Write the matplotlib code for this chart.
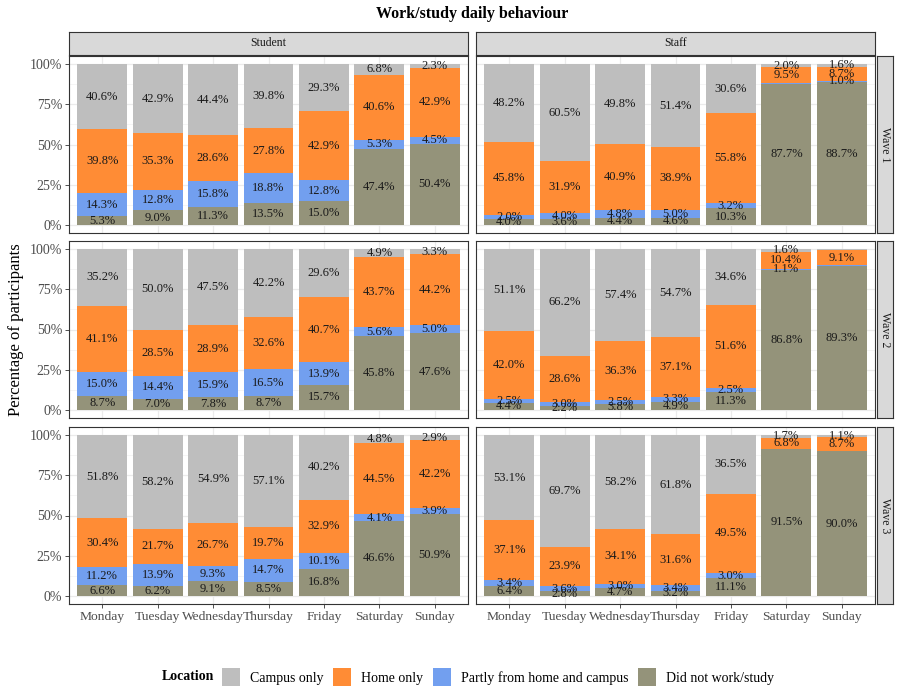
import matplotlib
matplotlib.use("Agg")
import matplotlib.pyplot as plt
from matplotlib.patches import Patch
import numpy as np

plt.rcParams["font.family"] = ["Liberation Serif", "DejaVu Serif"]

days = ["Monday", "Tuesday", "Wednesday", "Thursday", "Friday", "Saturday", "Sunday"]
groups = ["Student", "Staff"]
waves = ["Wave 1", "Wave 2", "Wave 3"]
locations = ["Campus only", "Home only", "Partly from home and campus", "Did not work/study"]
loc_colors = ["#BEBEBE", "#FF8C35", "#729FEF", "#94937A"]

# Percentages per wave (rows) and weekday (columns)
student_campus = [[40.6, 42.9, 44.4, 39.8, 29.3, 6.8, 2.3],
                  [35.2, 50.0, 47.5, 42.2, 29.6, 4.9, 3.3],
                  [51.8, 58.2, 54.9, 57.1, 40.2, 4.8, 2.9]]
student_home = [[39.8, 35.3, 28.6, 27.8, 42.9, 40.6, 42.9],
                [41.1, 28.5, 28.9, 32.6, 40.7, 43.7, 44.2],
                [30.4, 21.7, 26.7, 19.7, 32.9, 44.5, 42.2]]
student_partly = [[14.3, 12.8, 15.8, 18.8, 12.8, 5.3, 4.5],
                  [15.0, 14.4, 15.9, 16.5, 13.9, 5.6, 5.0],
                  [11.2, 13.9, 9.3, 14.7, 10.1, 4.1, 3.9]]
student_none = [[5.3, 9.0, 11.3, 13.5, 15.0, 47.4, 50.4],
                [8.7, 7.0, 7.8, 8.7, 15.7, 45.8, 47.6],
                [6.6, 6.2, 9.1, 8.5, 16.8, 46.6, 50.9]]

staff_campus = [[48.2, 60.5, 49.8, 51.4, 30.6, 2.0, 1.6],
                [51.1, 66.2, 57.4, 54.7, 34.6, 1.6, 0.9],
                [53.1, 69.7, 58.2, 61.8, 36.5, 1.7, 1.1]]
staff_home = [[45.8, 31.9, 40.9, 38.9, 55.8, 9.5, 8.7],
              [42.0, 28.6, 36.3, 37.1, 51.6, 10.4, 9.1],
              [37.1, 23.9, 34.1, 31.6, 49.5, 6.8, 8.7]]
staff_partly = [[2.0, 4.0, 4.8, 5.0, 3.2, 0.8, 1.0],
                [2.5, 3.0, 2.5, 3.3, 2.5, 1.1, 0.7],
                [3.4, 3.6, 3.0, 3.4, 3.0, 0.0, 0.2]]
staff_none = [[4.0, 3.6, 4.4, 4.6, 10.3, 87.7, 88.7],
              [4.4, 2.2, 3.8, 4.9, 11.3, 86.8, 89.3],
              [6.4, 2.8, 4.7, 3.2, 11.1, 91.5, 90.0]]

data = {
    "Student": [student_campus, student_home, student_partly, student_none],
    "Staff": [staff_campus, staff_home, staff_partly, staff_none],
}

W, H = 904, 687
fig = plt.figure(figsize=(W / 100, H / 100), dpi=100)


def rect(x0, y0, x1, y1):
    return [x0 / W, 1 - y1 / H, (x1 - x0) / W, (y1 - y0) / H]


cols_px = [(69, 468), (476, 875)]
rows_px = [(56, 233), (241, 418), (427, 604)]
strip_top = (32, 55)
strip_right = (877, 893)

x = np.arange(len(days))
border_col = "#333333"

for ci, group in enumerate(groups):
    series = data[group]
    for ri, wave in enumerate(waves):
        x0, x1 = cols_px[ci]
        y0, y1 = rows_px[ri]
        ax = fig.add_axes(rect(x0, y0, x1, y1))
        ax.set_xlim(-0.6, len(days) - 0.4)
        ax.set_ylim(-5, 105)
        ax.set_facecolor("white")
        for yv in [12.5, 37.5, 62.5, 87.5]:
            ax.axhline(yv, color="#F2F2F2", lw=0.5, zorder=0)
        for yv in [0, 25, 50, 75, 100]:
            ax.axhline(yv, color="#EBEBEB", lw=0.9, zorder=0)
        for xv in x:
            ax.axvline(xv, color="#EBEBEB", lw=0.9, zorder=0)

        # stack from the bottom: did not work, partly, home, campus
        bottom = np.zeros(len(days))
        for li in [3, 2, 1, 0]:
            vals = np.array(series[li][ri], dtype=float)
            ax.bar(x, vals, width=0.9, bottom=bottom, color=loc_colors[li],
                   edgecolor="none", zorder=2)
            for xi, (v, b) in enumerate(zip(vals, bottom)):
                if v >= 1.0:
                    ax.text(xi, b + v / 2, f"{v:.1f}%", ha="center", va="center",
                            fontsize=9, color="#1A1A1A", zorder=3)
            bottom += vals

        for sp in ax.spines.values():
            sp.set_color(border_col)
            sp.set_linewidth(0.8)
        ax.set_yticks([0, 25, 50, 75, 100])
        ax.set_xticks(x)
        ax.tick_params(length=3, color=border_col, width=0.6,
                       labelsize=10, labelcolor="#4D4D4D", pad=2)
        if ci == 0:
            ax.set_yticklabels(["0%", "25%", "50%", "75%", "100%"])
        else:
            ax.set_yticklabels([])
            ax.tick_params(axis="y", length=0)
        if ri == len(waves) - 1:
            ax.set_xticklabels(days, fontsize=9.7)
        else:
            ax.set_xticklabels([])
            ax.tick_params(axis="x", length=0)

        # top facet strip
        if ri == 0:
            sax = fig.add_axes(rect(x0, strip_top[0], x1, strip_top[1]))
            sax.set_facecolor("#D9D9D9")
            sax.set_xticks([])
            sax.set_yticks([])
            for sp in sax.spines.values():
                sp.set_color(border_col)
                sp.set_linewidth(0.8)
            sax.text(0.5, 0.5, group, ha="center", va="center",
                     fontsize=8.5, color="#1A1A1A", transform=sax.transAxes)
        # right facet strip
        if ci == len(groups) - 1:
            rax = fig.add_axes(rect(strip_right[0], y0, strip_right[1], y1))
            rax.set_facecolor("#D9D9D9")
            rax.set_xticks([])
            rax.set_yticks([])
            for sp in rax.spines.values():
                sp.set_color(border_col)
                sp.set_linewidth(0.8)
            rax.text(0.5, 0.5, wave, ha="center", va="center", rotation=-90,
                     fontsize=8.5, color="#1A1A1A", transform=rax.transAxes)

fig.text(472 / W, 1 - 14 / H, "Work/study daily behaviour", ha="center", va="center",
         fontsize=11.5, fontweight="bold")
fig.text(16 / W, 1 - 330 / H, "Percentage of participants", ha="center", va="center",
         rotation=90, fontsize=12)

fig.text(162 / W, 1 - 677 / H, "Location", ha="left", va="center",
         fontsize=10, fontweight="bold")
handles = [Patch(facecolor=c, edgecolor="none", label=l) for c, l in zip(loc_colors, locations)]
fig.legend(handles=handles, loc="center left", bbox_to_anchor=(222 / W, 1 - 677 / H),
           ncol=4, frameon=False, fontsize=10, handlelength=1.3, handleheight=1.7,
           handletextpad=0.7, columnspacing=0.7, borderpad=0, borderaxespad=0)

fig.savefig("out.png", dpi=100)
